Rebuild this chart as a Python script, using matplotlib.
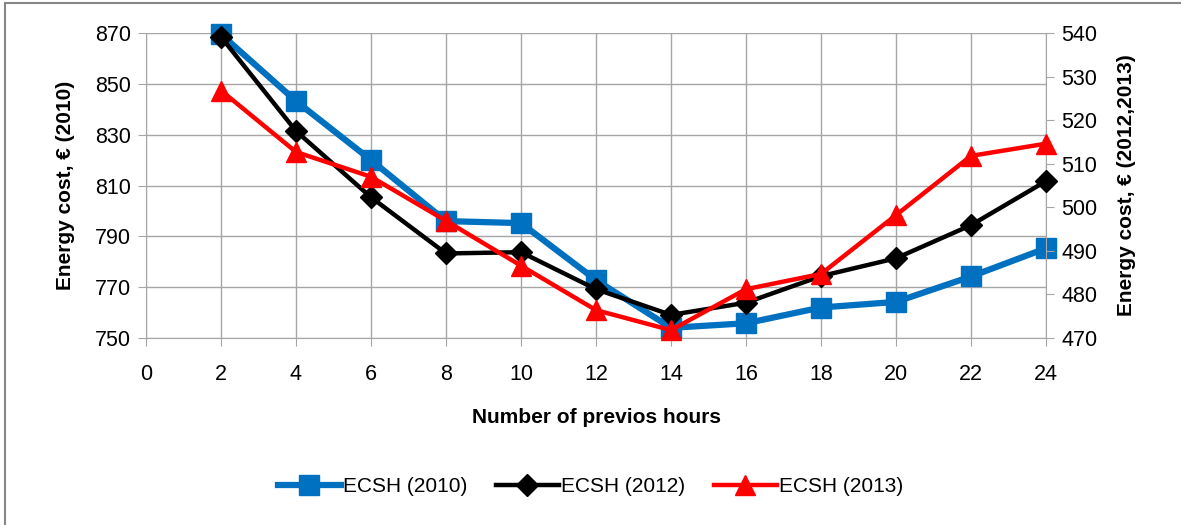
import matplotlib
matplotlib.use("Agg")
import matplotlib.pyplot as plt
from matplotlib.lines import Line2D
from matplotlib.patches import Rectangle

plt.rcParams['font.family'] = ['Liberation Sans Narrow', 'Liberation Sans', 'DejaVu Sans']

hours = [2, 4, 6, 8, 10, 12, 14, 16, 18, 20, 22, 24]
ecsh_2010 = [869.5, 843.2, 820.0, 796.0, 795.2, 772.8, 754.0, 755.8, 762.0, 764.2, 774.2, 785.3]
ecsh_2012 = [539.1, 517.5, 502.3, 489.4, 489.7, 481.2, 475.3, 478.1, 484.2, 488.3, 495.9, 506.0]
ecsh_2013 = [526.8, 512.7, 507.0, 496.9, 486.6, 476.4, 471.8, 481.2, 484.7, 498.2, 511.8, 514.6]

left_ticks = [750, 770, 790, 810, 830, 850, 870]
right_ticks = [470, 480, 490, 500, 510, 520, 530, 540]
x_ticks = list(range(0, 26, 2))

c_blue = '#0070C0'
c_black = '#000000'
c_red = '#FF0000'
grid_c = '#A6A6A6'

fig = plt.figure(figsize=(11.81, 5.25), dpi=100)
ax = fig.add_axes([146 / 1181, 1 - 338 / 525, 900 / 1181, 305 / 525])
ax2 = ax.twinx()

ax.plot(hours, ecsh_2010, color=c_blue, lw=4.5, marker='s', ms=14, zorder=3, clip_on=False)
ax2.plot(hours, ecsh_2012, color=c_black, lw=3.2, marker='D', ms=11, zorder=4, clip_on=False)
ax2.plot(hours, ecsh_2013, color=c_red, lw=3.2, marker='^', ms=15, zorder=5, clip_on=False)

ax.set_xlim(0, 24)
ax.set_ylim(750, 870)
ax2.set_ylim(470, 540)
ax.set_xticks(x_ticks)
ax.set_yticks(left_ticks)
ax2.set_yticks(right_ticks)

ax.grid(True, color=grid_c, lw=1.0)
ax.set_axisbelow(True)
for a in (ax, ax2):
    for s in a.spines.values():
        s.set_visible(False)
ax.spines['left'].set_visible(True)
ax.spines['left'].set_color(grid_c)
ax.spines['bottom'].set_visible(True)
ax.spines['bottom'].set_color(grid_c)
ax2.spines['right'].set_visible(True)
ax2.spines['right'].set_color(grid_c)

ax.tick_params(axis='x', length=6, color=grid_c, labelsize=15.5, pad=13)
ax.tick_params(axis='y', length=6, color=grid_c, labelsize=15.5, pad=5)
ax2.tick_params(axis='y', length=6, color=grid_c, labelsize=15.5, pad=5)

ax.set_xlabel('Number of previos hours', fontsize=15, fontweight='bold', labelpad=16)
ax.set_ylabel('Energy cost, € (2010)', fontsize=15, fontweight='bold', labelpad=14)
ax2.set_ylabel('Energy cost, € (2012,2013)', fontsize=15, fontweight='bold', labelpad=14)

handles = [
    Line2D([], [], color=c_blue, lw=4.5, marker='s', ms=14),
    Line2D([], [], color=c_black, lw=3.2, marker='D', ms=11),
    Line2D([], [], color=c_red, lw=3.2, marker='^', ms=15),
]
labels = ['ECSH (2010)', 'ECSH (2012)', 'ECSH (2013)']
fig.legend(handles, labels, loc='center', bbox_to_anchor=(0.5, 1 - 487 / 525), ncol=3,
           frameon=False, fontsize=15, handlelength=3.0, handletextpad=0.1, columnspacing=1.4)

fig.patches.append(Rectangle((5 / 1181, -0.01), 1.0, 1 - 3 / 525 + 0.01, transform=fig.transFigure,
                             fill=False, edgecolor='#868686', lw=1.5))

fig.savefig('out.png', dpi=100)
